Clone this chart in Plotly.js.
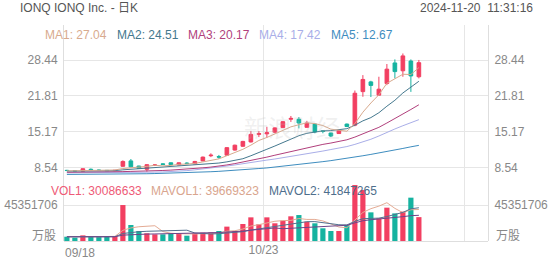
<!DOCTYPE html>
<html><head><meta charset="utf-8">
<script src="https://cdn.plot.ly/plotly-3.0.1.min.js"></script>
<style>html,body{margin:0;padding:0;background:#fff;}#chart{width:552px;height:265px;}</style>
</head><body><div id="chart"></div>
<script>
// ---- data ----
const titleText = 'IONQ IONQ Inc. - 日K';
const timeText = '2024-11-20  11:31:16';
const xTickPos = [24.575, 49.64];
const xTickText = ['10/23', ''];
const firstDateLabel = '09/18';
const priceTicks = [8.54, 15.17, 21.81, 28.44];
const priceTickText = ['8.54', '15.17', '21.81', '28.44'];
const volTicks = [45.351706];
const volTickText = ['45351706'];
const volUnitLabel = '万股';

const open  = [8.05,7.98,7.90,8.25,8.10,8.05,8.00,8.80,9.80,8.85,8.25,8.95,9.25,9.45,9.05,9.40,9.25,9.80,10.75,10.60,10.85,11.80,12.50,13.30,14.70,14.80,15.10,15.95,17.50,17.50,16.00,16.60,15.35,14.95,14.85,16.60,16.40,22.60,24.40,21.95,24.10,27.90,26.45,28.25,25.35];
const high  = [8.15,8.05,8.40,8.40,8.20,8.10,8.10,9.90,10.15,8.90,9.20,9.20,9.35,9.50,9.50,9.55,9.80,10.60,11.20,10.90,12.30,12.80,13.50,15.30,15.30,16.10,16.00,17.15,18.10,17.90,17.20,16.70,15.50,15.00,15.50,16.70,22.80,25.65,24.60,25.35,27.70,28.55,29.65,28.55,28.45];
const low   = [7.95,7.90,7.80,8.05,7.95,7.95,7.95,8.70,8.60,8.30,7.80,8.85,9.05,9.05,9.00,9.20,9.20,9.75,10.50,10.20,10.80,11.70,12.40,13.20,14.20,14.10,14.90,15.90,17.00,15.80,15.95,14.90,14.90,14.20,14.80,16.05,16.20,21.65,21.60,21.90,23.80,25.05,25.35,22.55,25.05];
const close = [8.02,7.95,8.35,8.15,8.05,8.00,8.05,9.70,8.70,8.40,9.10,9.05,9.15,9.10,9.45,9.30,9.70,10.50,10.85,10.50,12.25,12.70,13.40,14.70,14.85,15.00,15.90,17.05,17.65,16.80,16.80,15.15,15.25,14.40,15.45,16.15,22.30,24.85,23.75,23.05,26.75,26.30,29.20,25.50,27.95];

const ma1 = [7.95,7.97,8.05,8.08,8.10,8.10,8.12,8.39,8.50,8.57,8.79,8.99,8.88,8.96,9.17,9.21,9.34,9.61,9.96,10.17,10.76,11.36,11.94,12.71,13.58,14.13,14.77,15.40,16.09,16.48,16.84,16.69,16.33,15.67,15.41,15.28,16.71,18.80,20.50,22.02,24.14,24.94,25.81,25.76,27.04];
const ma2 = [7.90,7.90,7.92,7.93,7.95,7.97,8.00,8.15,8.25,8.30,8.42,8.52,8.60,8.68,8.78,8.95,9.02,9.10,9.25,9.40,9.62,9.88,10.20,10.75,11.30,11.95,12.55,13.20,13.85,14.45,14.90,15.15,15.35,15.40,15.60,15.75,16.40,17.20,17.80,18.70,19.90,21.00,22.35,23.45,24.51];
const ma3 = [7.70,7.70,7.72,7.72,7.73,7.75,7.76,7.82,7.86,7.88,7.92,7.98,8.03,8.10,8.18,8.27,8.40,8.52,8.66,8.80,9.05,9.30,9.58,9.88,10.20,10.50,10.85,11.20,11.55,11.90,12.25,12.55,12.85,13.10,13.40,13.70,14.20,14.80,15.40,16.00,16.80,17.60,18.50,19.30,20.17];
const ma4 = [7.60,7.60,7.60,7.61,7.61,7.62,7.63,7.65,7.66,7.67,7.68,7.72,7.76,7.82,7.88,8.00,8.15,8.30,8.45,8.65,8.85,9.05,9.30,9.55,9.75,9.95,10.15,10.38,10.60,10.85,11.10,11.35,11.62,11.90,12.15,12.45,12.85,13.30,13.80,14.40,15.10,15.70,16.30,16.85,17.42];
const ma5 = [7.30,7.30,7.31,7.31,7.32,7.33,7.34,7.36,7.38,7.40,7.43,7.46,7.49,7.53,7.57,7.62,7.68,7.74,7.80,7.87,7.95,8.05,8.15,8.27,8.39,8.50,8.65,8.80,8.95,9.12,9.30,9.48,9.66,9.85,10.05,10.25,10.50,10.75,11.00,11.25,11.50,11.80,12.10,12.40,12.67];

// volumes in millions of shares
const volume = [5.4,4.2,7.1,5.4,5.0,5.4,6.3,45.3,20.2,12.6,9.7,8.4,8.4,9.7,9.7,6.7,9.7,10.5,10.9,12.6,18.1,12.6,21.4,29.8,21.0,29.8,22.3,25.6,31.1,32.7,24.3,22.3,16.0,12.6,12.6,20.2,70.5,64.2,36.1,28.5,42.0,34.8,37.0,54.6,30.086633];
const mavol1 = [5.5,5.2,5.5,5.5,5.42,5.42,5.84,13.48,16.44,17.96,18.82,19.24,11.86,9.76,9.18,8.58,8.84,9.26,9.5,10.08,12.36,12.94,15.12,18.9,20.58,22.92,24.86,25.7,25.96,28.3,27.2,27.2,25.28,21.58,17.56,16.74,26.38,36.02,40.72,43.9,48.26,41.12,35.68,39.38,39.669323];
const mavol2 = [5.3,5.2,5.3,5.3,5.3,5.3,5.4,9.47,10.96,11.68,12.23,12.36,12.66,13.13,13.56,13.6,10.04,9.07,8.9,9.19,10.16,10.58,11.75,13.76,15.19,17.2,18.38,19.85,21.7,23.16,24.33,24.42,23.04,22.2,20.48,20.27,24.76,28.07,28.41,28.83,30.8,33.2,36.0,40.6,41.847265];
const mavol3 = [5.3,5.25,5.34,5.35,5.33,5.34,5.39,7.39,8.13,8.5,8.72,8.87,9.03,9.25,9.47,9.54,9.76,10.02,10.3,10.66,11.3,11.72,12.43,13.65,14.45,15.67,16.47,15.49,16.03,17.04,17.77,18.46,18.84,18.99,19.13,19.81,22.85,25.53,26.79,27.59,28.78,29.89,30.67,31.91,32.37];

// ---- styles ----
const RED = '#f23f61', GREEN = '#15b3a0';
const C_MA = ['#d8aa8e', '#44788e', '#b13f7c', '#a9aee8', '#3e8dbf'];
const C_MAVOL = ['#e4ab94', '#52718f', '#6d4589'];
const C_VOL = '#ee5a76';
const FONT = 'Liberation Sans, Arial, Noto Sans CJK SC, sans-serif';
const GRID = '#e6e6e6', LINE = '#dedede', TICK = '#888888';

const idx = close.map((_, i) => i);
const last = close.length - 1;

// layout geometry helpers (plot area 64..488 x, 25..241 y)
const PX_L = 64, PX_R = 488, PY_T = 25, PY_B = 241;
const px = v => (v - PX_L) / (PX_R - PX_L);
const py = v => (PY_B - v) / (PY_B - PY_T);
const split = py(180);

const lineTrace = (y, color, yaxis) => ({
  type: 'scatter', mode: 'lines', x: idx, y: y, yaxis: yaxis, xaxis: 'x',
  line: {color: color, width: 1}, hoverinfo: 'skip'
});

const traces = [
  {
    type: 'bar', x: idx, y: volume, xaxis: 'x', yaxis: 'y2',
    marker: {color: idx.map(i => close[i] >= open[i] ? RED : GREEN), line: {width: 0}},
    hoverinfo: 'skip'
  },
  lineTrace(mavol1, C_MAVOL[0], 'y2'),
  lineTrace(mavol2, C_MAVOL[1], 'y2'),
  lineTrace(mavol3, C_MAVOL[2], 'y4'),
  lineTrace(ma5, C_MA[4], 'y3'),
  lineTrace(ma4, C_MA[3], 'y'),
  lineTrace(ma3, C_MA[2], 'y'),
  lineTrace(ma2, C_MA[1], 'y'),
  lineTrace(ma1, C_MA[0], 'y'),
  {
    type: 'candlestick', x: idx, open: open, high: high, low: low, close: close,
    xaxis: 'x', yaxis: 'y', whiskerwidth: 0, hoverinfo: 'skip',
    increasing: {line: {color: RED, width: 1}, fillcolor: RED},
    decreasing: {line: {color: GREEN, width: 1}, fillcolor: GREEN}
  }
];

const priceRange = [6.27, 34.91];
const volRange = [0, 76.85];
const tickFont = {family: FONT, size: 12, color: TICK};

const annFont = (c) => ({family: FONT, size: 12, color: c});
const annotations = [];
const maNames = ['MA1', 'MA2', 'MA3', 'MA4', 'MA5'];
const maSeries = [ma1, ma2, ma3, ma4, ma5];
const maX = [43, 115, 186, 257, 329];
maNames.forEach((n, k) => annotations.push({
  xref: 'paper', yref: 'paper', x: px(maX[k]), y: py(35), xanchor: 'left', yanchor: 'middle',
  text: n + ': ' + maSeries[k][last].toFixed(2), showarrow: false, font: annFont(C_MA[k])
}));
const volLegend = [
  ['VOL1: ' + Math.round(volume[last] * 1e6), C_VOL, 49],
  ['MAVOL1: ' + Math.round(mavol1[last] * 1e6), '#d9a58e', 149],
  ['MAVOL2: ' + Math.round(mavol2[last] * 1e6), '#4e6e8c', 267]
];
volLegend.forEach(v => annotations.push({
  xref: 'paper', yref: 'paper', x: px(v[2]), y: py(191), xanchor: 'left', yanchor: 'middle',
  text: v[0], showarrow: false, font: annFont(v[1])
}));
annotations.push({xref: 'paper', yref: 'paper', x: px(58), y: py(236), xanchor: 'right', yanchor: 'middle',
  text: volUnitLabel, showarrow: false, font: tickFont});
annotations.push({xref: 'paper', yref: 'paper', x: px(494), y: py(236), xanchor: 'left', yanchor: 'middle',
  text: volUnitLabel, showarrow: false, font: tickFont});
annotations.push({xref: 'paper', yref: 'paper', x: px(63), y: py(253), xanchor: 'left', yanchor: 'middle',
  text: firstDateLabel, showarrow: false, font: tickFont});
annotations.push({xref: 'paper', yref: 'paper', x: px(535), y: py(8), xanchor: 'right', yanchor: 'middle',
  text: timeText, showarrow: false, font: annFont('#555555')});
annotations.push({xref: 'paper', yref: 'paper', x: px(292), y: py(128), xanchor: 'center', yanchor: 'middle',
  text: '新浪财经', showarrow: false, font: {family: FONT, size: 24, color: 'rgba(190,190,190,0.22)'}});

const layout = {
  width: 552, height: 265,
  margin: {l: PX_L, r: 552 - PX_R, t: PY_T, b: 265 - PY_B, pad: 0},
  paper_bgcolor: '#ffffff', plot_bgcolor: '#ffffff',
  showlegend: false, bargap: 0.35, boxgap: 0.35,
  font: {family: FONT, size: 12, color: TICK},
  title: {text: titleText, x: 20 / 552, xanchor: 'left', xref: 'container',
          y: 1 - 8 / 265, yanchor: 'middle', yref: 'container',
          font: {family: FONT, size: 12, color: '#555555'}},
  xaxis: {
    domain: [0, 1], range: [-0.36, 52.64], anchor: 'y2',
    tickmode: 'array', tickvals: xTickPos, ticktext: xTickText,
    showgrid: true, gridcolor: GRID, gridwidth: 1, zeroline: false,
    showline: false, ticks: '',
    tickfont: tickFont, rangeslider: {visible: false}, fixedrange: true
  },
  yaxis: {
    domain: [split, 1], range: priceRange, side: 'left',
    tickmode: 'array', tickvals: priceTicks, ticktext: priceTickText,
    showgrid: true, gridcolor: GRID, zeroline: false,
    showline: true, linecolor: LINE, ticks: '', ticklabelstandoff: 3, tickfont: tickFont
  },
  yaxis3: {
    overlaying: 'y', side: 'right', range: priceRange,
    tickmode: 'array', tickvals: priceTicks, ticktext: priceTickText,
    showgrid: false, zeroline: false, showline: true, linecolor: LINE,
    ticks: '', ticklabelstandoff: 3, tickfont: tickFont
  },
  yaxis2: {
    domain: [0, split], range: volRange, side: 'left',
    tickmode: 'array', tickvals: volTicks, ticktext: volTickText,
    showgrid: true, gridcolor: GRID, zeroline: true, zerolinecolor: LINE, zerolinewidth: 1,
    showline: true, linecolor: LINE, ticks: '', ticklabelstandoff: 3, tickfont: tickFont
  },
  yaxis4: {
    overlaying: 'y2', side: 'right', range: volRange,
    tickmode: 'array', tickvals: volTicks, ticktext: volTickText,
    showgrid: false, zeroline: false, showline: true, linecolor: LINE,
    ticks: '', ticklabelstandoff: 3, tickfont: tickFont
  },
  annotations: annotations
};

Plotly.newPlot('chart', traces, layout, {staticPlot: true, displayModeBar: false});
</script></body></html>
